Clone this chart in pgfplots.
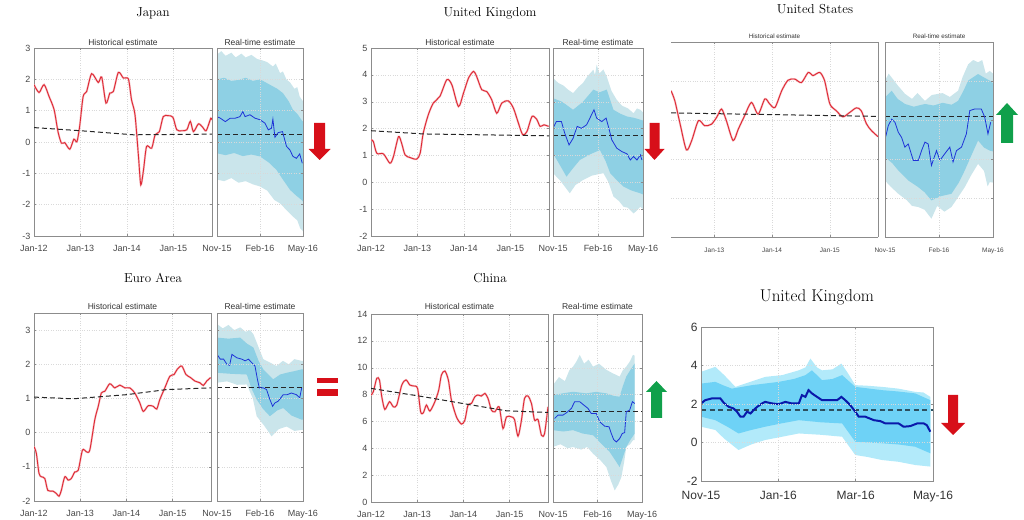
\documentclass[border=0pt]{standalone}
\usepackage{fontspec}
\setsansfont{Liberation Sans}
\usepackage{pgfplots}
\pgfplotsset{compat=1.18}
\usepgfplotslibrary{fillbetween}
\definecolor{histred}{RGB}{222,40,52}
\definecolor{rtblue}{RGB}{30,50,215}
\definecolor{bigblue}{RGB}{10,25,170}
\definecolor{lband}{RGB}{202,229,235}
\definecolor{dband}{RGB}{142,208,228}
\definecolor{lbandB}{RGB}{178,234,250}
\definecolor{dbandB}{RGB}{110,210,246}
\definecolor{arrred}{RGB}{215,15,25}
\definecolor{arrgreen}{RGB}{16,160,75}
\definecolor{frame}{RGB}{140,140,140}
\definecolor{tlab}{RGB}{70,70,70}
\pgfplotsset{
  base/.style={scale only axis, anchor=south west,
    axis line style={draw=frame},
    tick align=inside, major tick length=2pt, tick style={frame, thin},
    grid=major, grid style={dotted, gray!30, thin},
    ticklabel style={font=\sffamily\fontsize{9}{10}\selectfont, text=tlab},
    xticklabel style={yshift=-4.5pt, text height=0.72em},
    /pgf/number format/assume math mode=true,
    title style={font=\sffamily\fontsize{8.5}{9}\selectfont, text=black!80, at={(0.5,1)}, anchor=base, yshift=-3.5pt, inner sep=0pt},
  },
  hist/.style={base, xmin=0, xmax=46, xtick={0,12,24,36},
    xticklabels={Jan-12,Jan-13,Jan-14,Jan-15}, title={Historical estimate}},
  rt/.style={base, axis on top, xmin=0, xmax=6, xtick={0,3,6},
    xticklabels={Nov-15,Feb-16,May-16}, yticklabels={}, title={Real-time estimate}},
  redline/.style={histred, line width=0.9pt, smooth, tension=0.45, preaction={draw=histred!30, line width=2pt}},
  dashl/.style={black!85, line width=1pt, dash pattern=on 5pt off 3pt},
  blueline/.style={rtblue, line width=0.8pt},
}
\begin{document}
\begin{tikzpicture}

% ---------- Japan ----------
\node[font=\fontsize{13}{14}\selectfont] at (153pt,506pt) {Japan};
\begin{axis}[hist, at={(34pt,283pt)}, width=178pt, height=188pt, ymin=-3, ymax=3, ytick={-3,-2,...,3}]
\addplot[redline] coordinates {(0,1.83)(1.3,1.58)(2.6,1.83)(3.9,1.45)(5.2,1.03)(6.2,0.33)(7.1,-0.04)(7.95,-0.02)(9.25,-0.23)(10.3,0.09)(11.1,0.01)(11.8,0.5)(12.7,1.45)(13.6,1.61)(14.9,2.18)(16.6,1.9)(17.5,2.07)(18.6,1.24)(19.6,1.56)(20.5,1.61)(21.8,2.22)(23.1,2.04)(24.4,2.01)(25.2,1.35)(26.1,0.87)(27.0,-0.46)(27.6,-1.37)(28.3,-0.89)(29.1,-0.14)(30.4,-0.2)(31.3,0.23)(32.4,0.33)(33.4,0.81)(34.7,0.84)(35.9,0.79)(36.9,0.39)(38.2,0.36)(39.5,0.39)(40.4,0.66)(41.2,0.33)(42.5,0.58)(43.6,0.47)(44.5,0.36)(45.7,0.76)(46,0.7)};
\addplot[dashl] coordinates {(0,0.46)(12,0.36)(25.7,0.23)(46,0.25)};
\end{axis}
\begin{axis}[rt, at={(217pt,283pt)}, width=86pt, height=188pt, ymin=-3, ymax=3, ytick={-3,-2,...,3}]
\addplot[draw=none, name path=lu] coordinates {(0,2.79)(0.3,2.9)(0.6,2.75)(1,2.85)(1.3,2.7)(1.7,2.82)(2,2.7)(2.4,2.78)(2.8,2.65)(3.2,2.6)(3.5,2.55)(3.9,2.41)(4.1,2.5)(4.4,2.2)(4.6,2.25)(4.85,1.99)(5.1,1.9)(5.4,1.7)(5.6,1.75)(5.77,1.45)(6,1.3)};
\addplot[draw=none, name path=ll] coordinates {(0,-1.2)(0.5,-1.25)(1,-1.15)(1.5,-1.3)(2,-1.25)(2.5,-1.35)(3,-1.42)(3.5,-1.55)(4,-1.85)(4.4,-1.96)(4.8,-2.15)(5.3,-2.38)(5.6,-2.5)(5.8,-2.75)(6,-2.85)};
\addplot[lband] fill between[of=lu and ll];
\addplot[draw=none, name path=du] coordinates {(0,2.0)(0.5,2.05)(1,1.95)(1.5,1.98)(2,2.05)(2.5,1.95)(3,2.0)(3.4,1.9)(3.8,1.8)(4.2,1.7)(4.6,1.56)(5,1.3)(5.3,1.03)(5.6,0.9)(5.9,0.7)(6,0.65)};
\addplot[draw=none, name path=dl] coordinates {(0,-0.36)(0.6,-0.42)(1.2,-0.35)(1.8,-0.45)(2.4,-0.4)(3,-0.46)(3.6,-0.65)(4.15,-0.89)(4.6,-1.2)(5.1,-1.53)(5.5,-1.7)(5.9,-1.85)(6,-1.9)};
\addplot[dband] fill between[of=du and dl];
\addplot[dashl] coordinates {(0,0.23)(6,0.23)};
\addplot[blueline] coordinates {(0,0.81)(0.23,0.76)(0.58,0.65)(0.92,0.76)(1.27,0.76)(1.6,0.81)(1.8,0.97)(1.96,0.81)(2.3,0.87)(2.65,0.76)(3.0,0.71)(3.35,0.6)(3.58,0.39)(3.8,0.44)(3.9,0.73)(4.04,0.15)(4.27,0.3)(4.57,0.33)(4.85,-0.14)(5.08,-0.25)(5.3,-0.46)(5.54,-0.52)(5.77,-0.38)(5.95,-0.68)};
\end{axis}
\fill[arrred] (314pt,396pt) -- (325pt,396pt) -- (325pt,370pt) -- (330.5pt,370pt) -- (319.5pt,359pt) -- (308.5pt,370pt) -- (314pt,370pt) -- cycle;

% ---------- United Kingdom (small) ----------
\node[font=\fontsize{13}{14}\selectfont] at (490pt,506pt) {United Kingdom};
\begin{axis}[hist, at={(371pt,283pt)}, width=178pt, height=188pt, ymin=-2, ymax=5, ytick={-2,-1,...,5}]
\addplot[redline] coordinates {(0,1.58)(0.6,1.52)(1.5,1.08)(3.2,1.06)(4.9,0.71)(5.8,0.96)(7.1,1.70)(7.9,1.46)(8.8,1.02)(10.1,0.92)(11.8,0.86)(12.7,1.08)(13.5,1.83)(14.8,2.51)(16.1,2.95)(17.8,3.2)(19.6,3.82)(20.9,3.63)(22.6,2.82)(23.9,3.32)(25.2,3.88)(26.5,4.13)(27.3,3.94)(28.6,3.45)(29.9,3.38)(31.2,3.07)(32.5,2.57)(33.8,2.95)(35.5,3.03)(36.8,2.76)(38.1,2.2)(39.2,1.77)(40.3,1.89)(41.6,2.45)(42.8,2.35)(43.7,2.08)(44.7,2.14)(45.9,2.08)};
\addplot[dashl] coordinates {(0,1.92)(13.5,1.8)(46,1.73)};
\end{axis}
\begin{axis}[rt, at={(553pt,283pt)}, width=90pt, height=188pt, ymin=-2, ymax=5, ytick={-2,-1,...,5}]
\addplot[draw=none, name path=lu] coordinates {(0,3.88)(0.35,3.7)(0.7,3.6)(1.0,3.45)(1.34,3.32)(1.7,3.55)(2.0,3.7)(2.3,3.95)(2.69,4.19)(2.8,4.0)(2.91,4.38)(3.1,4.05)(3.35,4.2)(3.58,3.94)(3.9,3.4)(4.25,3.07)(4.6,2.85)(5.0,2.75)(5.37,2.57)(5.6,2.75)(5.82,2.7)(6,2.6)};
\addplot[draw=none, name path=ll] coordinates {(0,0.34)(0.5,0.05)(1.12,-0.41)(1.5,-0.1)(2.02,0.09)(2.6,0.25)(3.36,0.34)(3.7,0.0)(4.03,-0.53)(4.4,-0.7)(4.7,-0.91)(5.0,-0.95)(5.37,-1.16)(5.6,-1.05)(5.82,-0.91)(6,-1.0)};
\addplot[lband] fill between[of=lu and ll];
\addplot[draw=none, name path=du] coordinates {(0,3.13)(0.6,3.0)(1.34,2.7)(2.0,3.0)(2.69,3.45)(3.1,3.35)(3.58,3.45)(4.03,2.7)(4.5,2.55)(4.93,2.45)(5.4,2.4)(5.82,2.33)(6,2.3)};
\addplot[draw=none, name path=dl] coordinates {(0,1.08)(0.5,0.6)(0.9,0.21)(1.3,0.5)(1.79,0.83)(2.5,1.05)(3.13,1.2)(3.5,0.8)(3.81,0.34)(4.3,0.05)(4.7,-0.16)(5.2,-0.3)(5.82,-0.41)(6,-0.45)};
\addplot[dband] fill between[of=du and dl];
\addplot[dashl] coordinates {(0,1.73)(6,1.73)};
\addplot[blueline] coordinates {(0,2.01)(0.22,2.26)(0.56,2.26)(0.78,1.83)(1.07,1.39)(1.34,1.64)(1.61,2.08)(1.9,2.01)(2.24,2.14)(2.46,2.39)(2.73,2.7)(2.91,2.39)(3.25,2.26)(3.54,2.39)(3.69,2.08)(3.92,1.58)(4.25,1.27)(4.6,1.14)(4.93,1.06)(5.15,0.83)(5.37,0.96)(5.6,0.83)(5.82,1.02)(5.93,0.83)};
\end{axis}
\fill[arrred] (649.5pt,396pt) -- (659.5pt,396pt) -- (659.5pt,370pt) -- (664.5pt,370pt) -- (654.5pt,359pt) -- (644.5pt,370pt) -- (649.5pt,370pt) -- cycle;

% ---------- United States ----------
\node[font=\fontsize{13}{14}\selectfont] at (815pt,510pt) {United States};
\begin{axis}[base, at={(671pt,282pt)}, width=207pt, height=194.5pt, ymin=-1, ymax=4, ytick={0,1,2,3}, yticklabels={},
  xmin=3, xmax=46, xtick={12,24,36}, xticklabels={Jan-13,Jan-14,Jan-15},
  axis x line=box, axis y line=right, axis line style={-, draw=frame},
  ticklabel style={font=\sffamily\fontsize{6.5}{7}\selectfont},
  title={Historical estimate}, title style={font=\sffamily\fontsize{6.3}{7}\selectfont, yshift=1pt}]
\addplot[redline] coordinates {(3,2.76)(3.8,2.5)(4.9,1.9)(6.2,1.24)(7.3,1.48)(8.7,1.99)(10.0,1.86)(11.4,1.9)(12.5,2.08)(13.5,2.29)(14.5,1.99)(15.9,1.48)(17.0,1.78)(18.3,2.12)(19.7,2.46)(21.1,2.16)(22.5,2.55)(23.5,2.42)(24.6,2.33)(26.0,2.76)(27.3,3.03)(28.7,3.06)(30.1,2.97)(31.5,3.23)(32.5,3.15)(33.9,3.23)(34.9,3.02)(36.0,2.42)(37.3,2.25)(38.7,2.09)(40.1,2.2)(41.5,2.32)(42.5,2.25)(43.6,1.91)(44.6,1.74)(46,1.58)};
\addplot[dashl] coordinates {(3,2.19)(46,2.1)};
\end{axis}
\begin{axis}[rt, at={(885pt,282pt)}, width=108pt, height=194.5pt, ymin=-1, ymax=4, ytick={0,1,2,3},
  ticklabel style={font=\sffamily\fontsize{6.5}{7}\selectfont},
  title style={font=\sffamily\fontsize{6.3}{7}\selectfont, yshift=1pt}]
\addplot[draw=none, name path=lu] coordinates {(0,3.02)(0.2,3.2)(0.37,3.1)(0.7,2.9)(1.11,2.68)(1.5,2.55)(1.8,2.7)(2.22,2.5)(2.6,2.65)(3.2,2.7)(3.6,2.6)(4.06,2.76)(4.3,3.1)(4.62,3.44)(4.9,3.55)(5.17,3.49)(5.4,3.55)(5.6,3.2)(5.82,3.27)(6,3.2)};
\addplot[draw=none, name path=ll] coordinates {(0,0.45)(0.3,0.3)(0.74,0.11)(1.2,-0.05)(1.5,-0.2)(1.85,-0.23)(2.2,-0.3)(2.58,-0.53)(2.9,-0.2)(3.3,-0.35)(3.69,-0.23)(4.1,0.05)(4.43,0.28)(4.8,0.6)(5.17,0.88)(5.5,0.7)(5.7,0.3)(5.82,0.41)(6,0.4)};
\addplot[lband] fill between[of=lu and ll];
\addplot[draw=none, name path=du] coordinates {(0,2.59)(0.37,2.76)(0.7,2.55)(1.11,2.42)(1.6,2.35)(2.22,2.42)(2.7,2.38)(3.2,2.45)(3.7,2.4)(4.06,2.5)(4.35,2.75)(4.62,3.02)(5.17,3.19)(5.5,3.1)(5.82,3.02)(6,2.95)};
\addplot[draw=none, name path=dl] coordinates {(0,1.05)(0.4,0.9)(0.74,0.71)(1.3,0.45)(1.85,0.28)(2.2,0.15)(2.58,-0.06)(3.1,0.05)(3.69,0.11)(4.1,0.4)(4.43,0.71)(4.8,1.1)(5.17,1.48)(5.5,1.3)(5.82,1.22)(6,1.2)};
\addplot[dband] fill between[of=du and dl];
\addplot[dashl] coordinates {(0,2.1)(6,2.1)};
\addplot[blueline] coordinates {(0.04,1.58)(0.18,1.86)(0.37,2.03)(0.55,1.95)(0.74,1.69)(0.92,1.56)(1.1,1.31)(1.29,1.39)(1.57,0.97)(1.85,0.97)(2.03,1.22)(2.22,1.44)(2.4,1.39)(2.58,0.84)(2.86,1.22)(3.05,0.97)(3.32,1.14)(3.6,1.31)(3.78,0.93)(3.97,1.22)(4.25,1.31)(4.52,1.65)(4.71,2.25)(4.98,2.29)(5.35,2.29)(5.54,2.08)(5.72,1.65)(5.87,1.95)};
\end{axis}
\fill[arrgreen] (1001pt,376pt) -- (1013pt,376pt) -- (1013pt,404pt) -- (1018pt,404pt) -- (1007pt,416pt) -- (996pt,404pt) -- (1001pt,404pt) -- cycle;

% ---------- Euro Area ----------
\node[font=\fontsize{13}{14}\selectfont] at (153pt,241pt) {Euro Area};
\begin{axis}[hist, at={(34pt,18pt)}, width=177pt, height=188pt, ymin=-2, ymax=3.5, ytick={-2,-1,...,3}, title style={yshift=1.5pt}]
\addplot[redline] coordinates {(0,-0.41)(0.6,-0.6)(1.3,-1.19)(1.9,-1.29)(2.8,-1.34)(3.6,-1.69)(4.9,-1.71)(5.8,-1.78)(6.5,-1.86)(7.1,-1.69)(8.0,-1.29)(8.9,-1.39)(9.7,-1.34)(10.6,-1.15)(11.5,-1.1)(12.6,-0.51)(13.6,-0.56)(14.5,-0.51)(15.8,0.38)(16.7,0.77)(17.5,1.16)(18.4,1.21)(19.7,1.43)(21.0,1.31)(22.3,1.39)(23.6,1.31)(24.9,1.31)(26.2,1.16)(27.5,0.87)(28.4,0.62)(29.7,0.79)(31.0,0.77)(31.9,0.69)(32.7,0.97)(34.0,1.31)(35.3,1.65)(36.4,1.7)(37.2,1.85)(38.4,1.95)(39.5,1.7)(40.7,1.61)(41.8,1.51)(43.1,1.46)(44.0,1.38)(44.9,1.51)(45.9,1.61)};
\addplot[dashl] coordinates {(0,1.04)(10.2,0.99)(24,1.11)(34.5,1.26)(46,1.31)};
\end{axis}
\begin{axis}[rt, at={(217pt,18pt)}, width=86pt, height=188pt, ymin=-2, ymax=3.5, ytick={-2,-1,...,3}, title style={yshift=1.5pt}]
\addplot[draw=none, name path=lu] coordinates {(0,3.18)(0.4,3.05)(0.8,3.15)(1.2,3.0)(1.62,3.08)(2.0,2.95)(2.3,3.0)(2.54,2.88)(2.9,2.5)(3.23,2.15)(3.7,2.05)(4.15,1.95)(4.6,2.1)(5.0,2.0)(5.4,2.15)(5.9,2.1)(6,2.1)};
\addplot[draw=none, name path=ll] coordinates {(0,1.46)(0.7,1.5)(1.4,1.4)(2.08,1.41)(2.5,1.0)(2.77,0.48)(3.3,0.2)(3.81,-0.11)(4.3,0.1)(4.85,0.18)(5.4,0.05)(5.9,0.08)(6,0.08)};
\addplot[lband] fill between[of=lu and ll];
\addplot[draw=none, name path=du] coordinates {(0,2.78)(0.8,2.75)(1.62,2.78)(2.1,2.6)(2.54,2.49)(2.9,2.1)(3.23,1.85)(3.92,1.56)(4.4,1.7)(4.85,1.75)(5.4,1.8)(5.9,1.85)(6,1.85)};
\addplot[draw=none, name path=dl] coordinates {(0,1.75)(1.0,1.72)(2.08,1.7)(2.4,1.3)(2.77,0.97)(3.2,0.7)(3.69,0.48)(4.2,0.65)(4.62,0.72)(5.2,0.5)(5.9,0.38)(6,0.38)};
\addplot[dband] fill between[of=du and dl];
\addplot[dashl] coordinates {(0,1.31)(6,1.31)};
\addplot[blueline] coordinates {(0,2.29)(0.23,2.15)(0.46,2.15)(0.69,2.0)(0.88,1.97)(1.04,2.29)(1.38,2.19)(1.73,2.15)(1.96,2.1)(2.19,2.15)(2.42,2.05)(2.65,1.95)(2.82,1.56)(2.95,1.31)(3.23,1.31)(3.46,1.26)(3.69,0.97)(3.88,0.77)(4.04,0.87)(4.27,0.92)(4.62,1.11)(4.89,1.11)(5.19,1.16)(5.54,1.11)(5.77,1.02)(5.91,1.31)};
\end{axis}
\fill[arrred] (317pt,136pt) rectangle (338pt,141pt);
\fill[arrred] (317pt,123pt) rectangle (338pt,129.5pt);

% ---------- China ----------
\node[font=\fontsize{13}{14}\selectfont] at (490pt,241pt) {China};
\begin{axis}[hist, at={(371pt,17pt)}, width=177pt, height=188pt, ymin=0, ymax=14, ytick={0,2,...,14}, title style={yshift=1.5pt}]
\addplot[redline] coordinates {(0,7.96)(0.6,8.21)(1.5,9.21)(2.2,9.09)(2.8,7.84)(3.6,6.89)(4.8,7.47)(5.8,7.09)(6.7,7.22)(8.0,8.71)(9.1,9.09)(10.1,8.71)(11.1,8.64)(12.1,8.46)(12.9,6.72)(13.6,6.64)(14.4,7.22)(15.3,6.77)(16.6,7.47)(17.6,8.34)(18.3,9.46)(19.2,9.76)(20.1,9.09)(20.9,7.59)(22.2,6.34)(23.5,5.8)(24.4,6.1)(25.2,7.22)(26.1,7.34)(27.0,7.84)(27.8,7.97)(28.7,7.89)(29.6,8.09)(30.4,7.72)(31.3,6.84)(32.2,6.72)(33.3,7.09)(34.3,5.47)(35.2,6.34)(36.5,6.34)(37.3,6.14)(38.2,4.9)(39.1,6.1)(39.9,7.72)(40.8,7.89)(41.7,7.34)(42.5,6.1)(43.4,6.14)(44.3,4.97)(45.1,5.1)(46,7.09)};
\addplot[dashl] coordinates {(0,8.46)(13.6,7.84)(24.8,7.29)(35.2,6.79)(46,6.67)};
\end{axis}
\begin{axis}[rt, at={(553pt,17pt)}, width=89pt, height=188pt, ymin=0, ymax=14, ytick={0,2,...,14}, title style={yshift=1.5pt}]
\addplot[draw=none, name path=lu] coordinates {(0,8.71)(0.4,9.3)(0.8,9.0)(1.1,9.8)(1.35,10.08)(1.6,10.5)(1.8,10.96)(2.1,10.3)(2.4,10.6)(2.7,10.08)(3.1,10.3)(3.6,9.84)(4.0,9.6)(4.49,9.34)(4.7,9.8)(4.94,10.08)(5.2,10.5)(5.39,10.96)(5.51,10.9)};
\addplot[draw=none, name path=ll] coordinates {(0,4.1)(0.5,4.3)(1.0,4.0)(1.35,4.1)(1.9,3.9)(2.3,4.1)(2.7,3.6)(3.2,3.1)(3.6,2.6)(3.9,1.6)(4.16,0.86)(4.4,1.3)(4.61,1.85)(4.8,3.0)(4.94,4.1)(5.2,4.3)(5.39,4.6)(5.51,4.6)};
\addplot[lband] fill between[of=lu and ll];
\addplot[draw=none, name path=du] coordinates {(0,7.96)(0.7,8.1)(1.35,8.21)(2.25,8.09)(2.9,8.2)(3.6,8.09)(4.1,7.9)(4.49,7.84)(4.7,8.6)(4.94,9.34)(5.2,9.8)(5.51,10.33)};
\addplot[draw=none, name path=dl] coordinates {(0,5.35)(0.7,5.25)(1.35,5.35)(2.0,5.1)(2.7,4.97)(3.3,4.3)(3.82,3.73)(4.2,3.1)(4.49,2.6)(4.7,3.3)(4.94,4.1)(5.2,4.6)(5.51,5.1)};
\addplot[dband] fill between[of=du and dl];
\addplot[dashl] coordinates {(0,6.72)(6,6.72)};
\addplot[blueline] coordinates {(0.11,6.22)(0.34,6.47)(0.67,6.47)(0.9,6.64)(1.24,6.97)(1.46,7.47)(1.8,7.47)(2.02,7.27)(2.36,6.97)(2.58,6.59)(2.92,6.59)(3.15,5.97)(3.48,5.65)(3.78,5.6)(3.93,5.1)(4.09,4.65)(4.27,4.47)(4.49,4.72)(4.67,5.1)(4.83,5.17)(4.94,6.72)(5.17,6.84)(5.35,7.47)(5.51,7.34)};
\end{axis}
\fill[arrgreen] (651pt,101pt) -- (662pt,101pt) -- (662pt,127pt) -- (667pt,127pt) -- (656.5pt,138pt) -- (646pt,127pt) -- (651pt,127pt) -- cycle;

% ---------- United Kingdom (large) ----------
\node[font=\fontsize{17}{18}\selectfont] at (817pt,222pt) {United Kingdom};
\begin{axis}[base, axis on top, at={(701pt,38pt)}, width=232pt, height=154pt, xmin=0, xmax=6, xtick={0,2,4,6},
  xticklabels={Nov-15,Jan-16,Mar-16,May-16}, ymin=-2, ymax=6, ytick={-2,0,...,6},
  ticklabel style={font=\sffamily\fontsize{12}{13}\selectfont, text=black!80},
  xticklabel style={yshift=-3pt},
  axis line style={draw=frame, line width=0.8pt}]
\addplot[draw=none, name path=lu] coordinates {(0,3.67)(0.37,3.93)(0.6,3.5)(0.89,2.89)(1.2,3.1)(1.66,3.41)(2.1,3.5)(2.53,3.75)(2.7,3.9)(2.83,4.36)(3.0,3.9)(3.13,3.75)(3.4,3.8)(3.63,4.1)(3.8,3.6)(3.99,2.98)(4.3,2.95)(4.68,2.89)(5.1,2.8)(5.54,2.63)(5.75,2.6)(5.93,2.37)};
\addplot[draw=none, name path=ll] coordinates {(0,0.82)(0.37,0.65)(0.6,0.2)(0.97,-0.39)(1.3,-0.1)(1.66,0.13)(2.1,0.3)(2.53,0.47)(3.1,0.4)(3.65,0.3)(3.99,-0.65)(4.3,-0.75)(4.68,-0.91)(5.1,-1.0)(5.54,-1.17)(5.93,-1.25)};
\addplot[lbandB] fill between[of=lu and ll];
\addplot[draw=none, name path=du] coordinates {(0,3.06)(0.37,3.15)(0.6,2.95)(0.8,2.8)(1.32,2.98)(2.01,3.15)(2.4,3.3)(2.7,3.5)(2.87,3.75)(3.13,3.24)(3.4,3.3)(3.65,3.5)(3.99,2.89)(4.68,2.72)(5.1,2.65)(5.54,2.55)(5.93,2.2)};
\addplot[draw=none, name path=dl] coordinates {(0,1.34)(0.37,1.16)(0.7,0.8)(0.97,0.47)(1.3,0.65)(1.66,0.82)(2.1,1.0)(2.53,1.16)(3.1,1.05)(3.65,0.99)(3.99,0.04)(4.68,-0.04)(5.1,-0.1)(5.54,-0.22)(5.93,-0.56)};
\addplot[dbandB] fill between[of=du and dl];
\addplot[draw={rgb,255:red,45;green,80;blue,95}, line width=1.5pt, dash pattern=on 5pt off 3.5pt] coordinates {(0,1.68)(6,1.68)};
\addplot[bigblue, line width=2pt] coordinates {(0,2.03)(0.11,2.2)(0.28,2.29)(0.5,2.29)(0.59,2.06)(0.72,1.85)(0.84,1.77)(0.93,1.6)(1.02,1.34)(1.1,1.34)(1.19,1.6)(1.28,1.51)(1.36,1.68)(1.45,1.85)(1.58,2.03)(1.66,2.11)(1.84,2.03)(2.01,1.99)(2.18,2.11)(2.35,2.03)(2.53,2.03)(2.61,2.46)(2.7,2.37)(2.78,2.72)(2.87,2.55)(3.0,2.37)(3.13,2.2)(3.3,2.2)(3.52,2.2)(3.63,2.37)(3.73,2.2)(3.86,1.94)(3.99,1.6)(4.08,1.34)(4.25,1.34)(4.47,1.16)(4.64,1.11)(4.77,0.99)(4.94,0.99)(5.11,0.99)(5.24,0.82)(5.41,0.85)(5.59,0.99)(5.76,0.99)(5.84,0.9)(5.93,0.56)};
\end{axis}
\fill[arrred] (948pt,124pt) -- (958pt,124pt) -- (958pt,96pt) -- (965pt,96pt) -- (953pt,84pt) -- (941pt,96pt) -- (948pt,96pt) -- cycle;
\pgfresetboundingbox
\useasboundingbox (0,0) rectangle (1024pt,519pt);
\end{tikzpicture}
\end{document}
